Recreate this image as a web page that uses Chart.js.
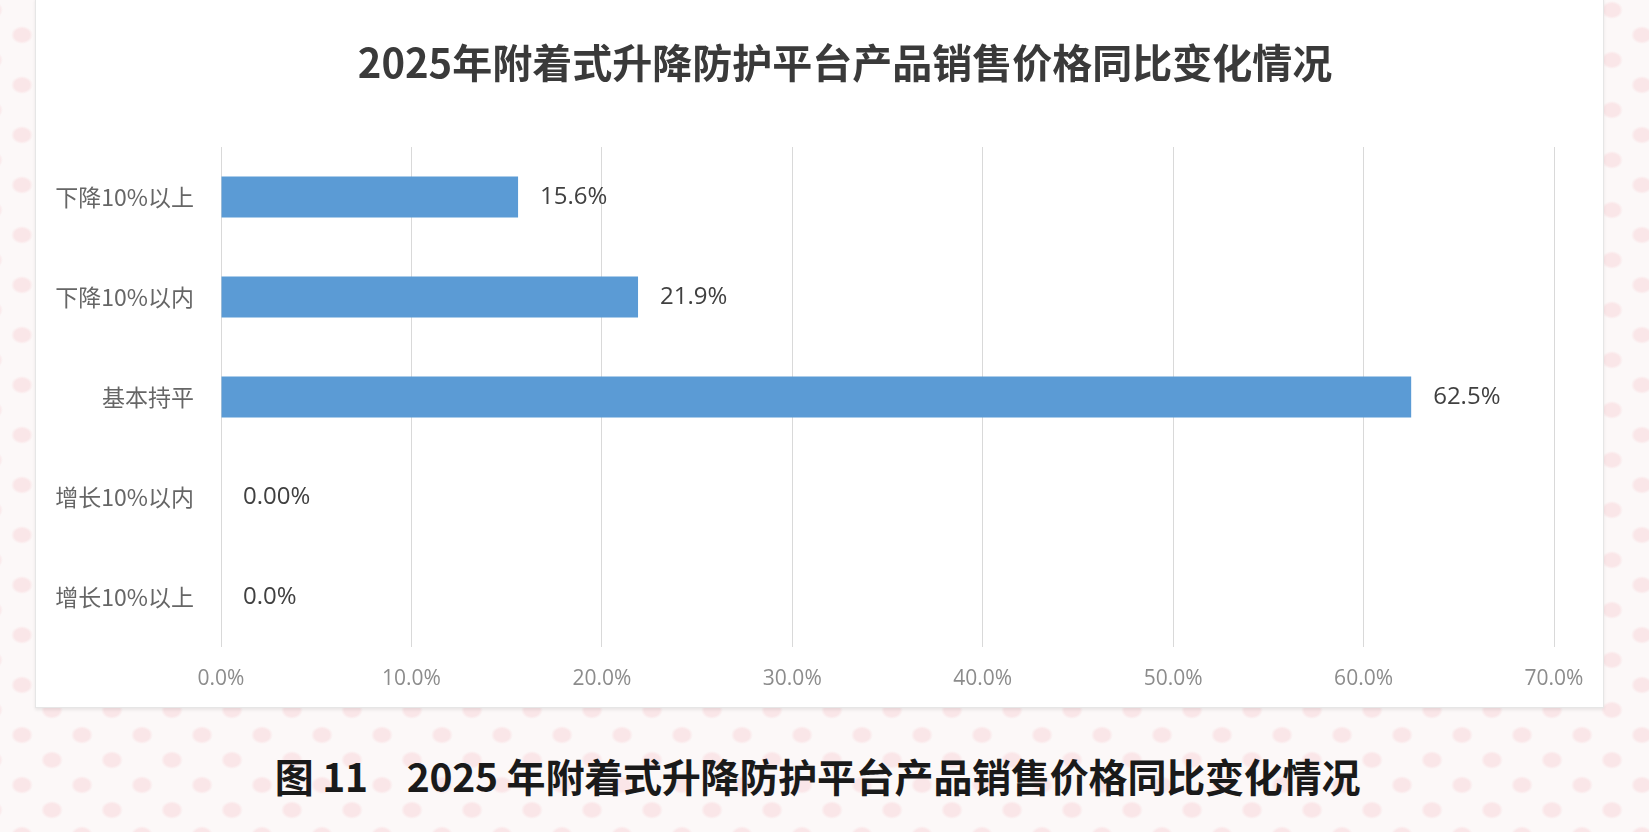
<!DOCTYPE html>
<html>
<head>
<meta charset="utf-8">
<script src="https://cdn.jsdelivr.net/npm/chart.js@4"></script>
<style>
  html, body { margin: 0; padding: 0; }
  body {
    width: 1649px; height: 832px; overflow: hidden; position: relative;
    background-color: #fcf8f8;
    background-image:
      radial-gradient(ellipse 11px 9px at 50% 50%, #fae6e8 0, #fae6e8 70%, transparent 100%),
      radial-gradient(ellipse 11px 9px at 50% 50%, #fae6e8 0, #fae6e8 70%, transparent 100%);
    background-size: 60px 50px, 60px 50px;
    background-position: -8px 10px, 22px 35px;
  }
  #panel {
    position: absolute; left: 35px; top: -2px; width: 1567px; height: 708px; overflow: hidden;
    background: #fff; border: 1px solid #e6e6e6; box-shadow: 0 2px 3px rgba(0,0,0,0.08);
  }
  #caption {
    position: absolute; left: -7px; width: 1649px; top: 747px; text-align: center;
    font-family: "Noto Sans CJK SC", sans-serif; font-size: 39px; color: #1a1a1a;
    font-weight: bold; letter-spacing: -0.2px;
  }
</style>
</head>
<body>
<div id="panel"><canvas id="chart" width="1618" height="708"></canvas></div>
<div id="caption">图 11　2025 年附着式升降防护平台产品销售价格同比变化情况</div>
<script>
const categories = ['下降10%以上', '下降10%以内', '基本持平', '增长10%以内', '增长10%以上'];
const shares = [15.6, 21.9, 62.5, 0, 0];
const shareLabels = ['15.6%', '21.9%', '62.5%', '0.00%', '0.0%'];
const xTicks = [0, 10, 20, 30, 40, 50, 60, 70];

// draws the value text next to each bar
const barLabels = {
  id: 'barLabels',
  afterDatasetsDraw(chart) {
    const ctx = chart.ctx;
    const meta = chart.getDatasetMeta(0);
    ctx.save();
    ctx.font = '24px "Open Sans", sans-serif';
    ctx.fillStyle = '#404040';
    ctx.textBaseline = 'middle';
    ctx.textAlign = 'left';
    meta.data.forEach((bar, i) => {
      ctx.fillText(shareLabels[i], bar.x + 22, bar.y);
    });
    ctx.restore();
  }
};

const ctx = document.getElementById('chart').getContext('2d');
new Chart(ctx, {
  type: 'bar',
  data: {
    labels: categories,
    datasets: [{
      data: shares,
      backgroundColor: '#5b9bd5',
      barPercentage: 0.41,
      categoryPercentage: 1
    }]
  },
  options: {
    indexAxis: 'y',
    responsive: false,
    animation: false,
    layout: { padding: { left: 0, right: 0, top: 0, bottom: -5 } },
    plugins: {
      legend: { display: false },
      tooltip: { enabled: false },
      title: {
        display: true,
        text: '2025年附着式升降防护平台产品销售价格同比变化情况',
        color: '#3a3a3a',
        font: { family: '"Noto Sans CJK SC", sans-serif', size: 40, weight: 'bold' },
        padding: { top: 40, bottom: 60 }
      }
    },
    scales: {
      x: {
        min: 0,
        max: 70,
        afterBuildTicks: (scale) => { scale.ticks = xTicks.map(v => ({ value: v })); },
        afterFit: (scale) => { scale.paddingRight = 100; },
        grid: { color: '#d9d9d9', drawTicks: false },
        border: { display: false },
        ticks: {
          padding: 20,
          color: '#8c8c8c',
          font: { family: '"Open Sans", sans-serif', size: 21 },
          callback: (v) => Number(v).toFixed(1) + '%'
        }
      },
      y: {
        grid: { display: false },
        border: { display: false },
        afterFit: (scale) => { scale.width = 185; },
        ticks: {
          padding: 19,
          color: '#666666',
          font: { family: '"Noto Sans CJK SC", sans-serif', size: 23 }
        }
      }
    }
  },
  plugins: [barLabels]
});
</script>
</body>
</html>
